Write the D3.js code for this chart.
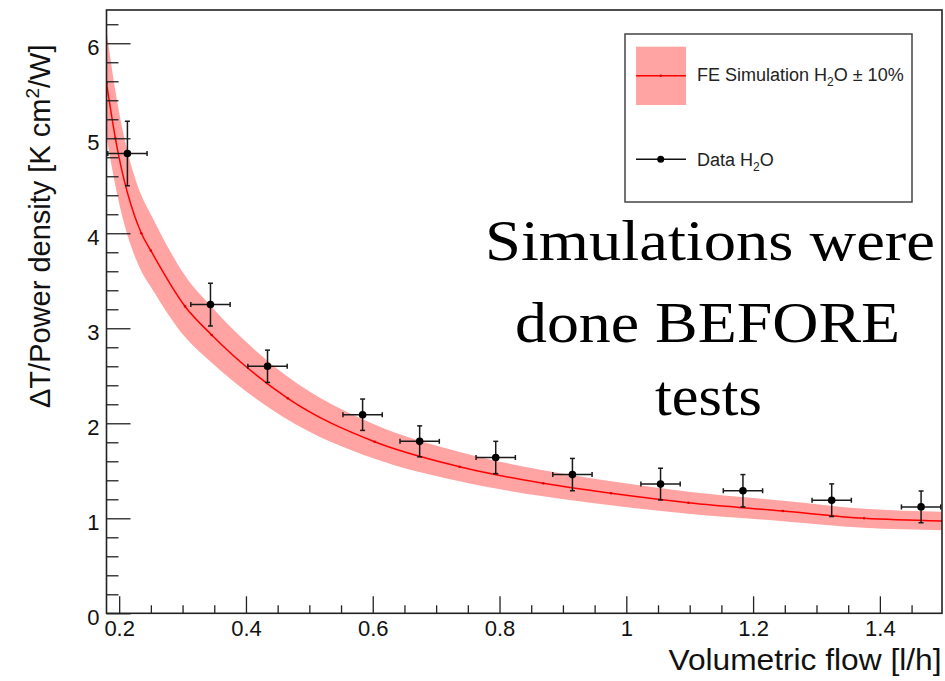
<!DOCTYPE html>
<html>
<head>
<meta charset="utf-8">
<script src="https://cdn.jsdelivr.net/npm/d3@7"></script>
<style>
  html, body { margin: 0; padding: 0; background: #fff; }
  svg { display: block; }
</style>
</head>
<body>
<svg id="chart" width="945" height="681"></svg>
<script>
// ---- Data ----
const dataX    = [0.213, 0.344, 0.434, 0.584, 0.674, 0.794, 0.915, 1.054, 1.184, 1.324, 1.465];
const dataY    = [4.84, 3.25, 2.60, 2.09, 1.81, 1.64, 1.46, 1.36, 1.29, 1.19, 1.12];
const dataXErr = [0.031, 0.031, 0.031, 0.031, 0.031, 0.031, 0.031, 0.031, 0.031, 0.031, 0.031];
const dataYErr = [0.34, 0.225, 0.17, 0.165, 0.163, 0.17, 0.17, 0.167, 0.17, 0.172, 0.167];

const simX = [0.18, 0.194, 0.235, 0.25, 0.304, 0.346, 0.466, 0.603, 0.737, 0.869, 0.976, 1.098, 1.247, 1.375, 1.498];
const simY = [5.58, 5.0, 4.0, 3.817, 3.23, 2.93, 2.263, 1.806, 1.543, 1.368, 1.263, 1.164, 1.077, 1.0, 0.972];
const simBand = 0.10; // ±10%

const xMajorTicks = [0.2, 0.4, 0.6, 0.8, 1.0, 1.2, 1.4];
const xMinorTicks = [0.25, 0.3, 0.35, 0.45, 0.5, 0.55, 0.65, 0.7, 0.75, 0.85, 0.9, 0.95, 1.05, 1.1, 1.15, 1.25, 1.3, 1.35, 1.45];
const yMajorTicks = [0, 1, 2, 3, 4, 5, 6];
const yMinorTicks = [0.2,0.4,0.6,0.8,1.2,1.4,1.6,1.8,2.2,2.4,2.6,2.8,3.2,3.4,3.6,3.8,4.2,4.4,4.6,4.8,5.2,5.4,5.6,5.8,6.2];

const xTitle = "Volumetric flow [l/h]";
const noteLines = ["Simulations were", "done BEFORE", "tests"];

// ---- Layout ----
const SANS = "'Liberation Sans', Arial, Helvetica, sans-serif";
const SERIF = "'Liberation Serif', 'Times New Roman', serif";
const svg = d3.select("#chart");
const L = 106.5, R = 942, T = 10, B = 613.3;
const x = d3.scaleLinear().domain([0.18, 1.498]).range([L, R]);
const y = d3.scaleLinear().domain([0, 6.35]).range([B, T]);

svg.append("rect").attr("width", 945).attr("height", 681).attr("fill", "#fff");

svg.append("defs").append("clipPath").attr("id", "frameClip")
  .append("rect").attr("x", L).attr("y", T).attr("width", R - L).attr("height", B - T);

const plot = svg.append("g").attr("clip-path", "url(#frameClip)");

// Simulation band and curve
const sim = simX.map((v, i) => ({ x: v, y: simY[i] }));
const area = d3.area()
  .x(d => x(d.x))
  .y0(d => y(d.y * (1 - simBand)))
  .y1(d => y(d.y * (1 + simBand)))
  .curve(d3.curveMonotoneX);
plot.append("path").datum(sim).attr("d", area).attr("fill", "#ffa3a3");

const line = d3.line().x(d => x(d.x)).y(d => y(d.y)).curve(d3.curveMonotoneX);
plot.append("path").datum(sim).attr("d", line)
  .attr("fill", "none").attr("stroke", "#ff0000").attr("stroke-width", 1.5);
plot.selectAll("circle.sim").data(sim).enter().append("circle")
  .attr("class", "sim").attr("cx", d => x(d.x)).attr("cy", d => y(d.y))
  .attr("r", 1.3).attr("fill", "#e00000");

// Data points with error bars
const pts = dataX.map((v, i) => ({ x: v, y: dataY[i], ex: dataXErr[i], ey: dataYErr[i] }));
const cap = 2.5;
const eb = plot.append("g").attr("stroke", "#1a1a1a").attr("stroke-width", 1.5);
pts.forEach(p => {
  const cx = x(p.x), cy = y(p.y);
  const x0 = x(p.x - p.ex), x1 = x(p.x + p.ex);
  const y0 = y(p.y - p.ey), y1 = y(p.y + p.ey);
  eb.append("line").attr("x1", x0).attr("x2", x1).attr("y1", cy).attr("y2", cy);
  eb.append("line").attr("x1", cx).attr("x2", cx).attr("y1", y0).attr("y2", y1);
  eb.append("line").attr("x1", x0).attr("x2", x0).attr("y1", cy - cap).attr("y2", cy + cap);
  eb.append("line").attr("x1", x1).attr("x2", x1).attr("y1", cy - cap).attr("y2", cy + cap);
  eb.append("line").attr("x1", cx - cap).attr("x2", cx + cap).attr("y1", y0).attr("y2", y0);
  eb.append("line").attr("x1", cx - cap).attr("x2", cx + cap).attr("y1", y1).attr("y2", y1);
});
plot.selectAll("circle.pt").data(pts).enter().append("circle")
  .attr("class", "pt").attr("cx", d => x(d.x)).attr("cy", d => y(d.y))
  .attr("r", 3.8).attr("fill", "#000");

// Axes
function styleAxis(g) {
  g.select(".domain").remove();
  g.selectAll(".tick line").attr("stroke", "#222").attr("stroke-width", 1.3);
  g.selectAll("text").style("font-size", "22px").style("font-family", SANS).attr("fill", "#111");
}
const gxMinor = svg.append("g").attr("transform", `translate(0,${B})`)
  .call(d3.axisBottom(x).tickValues(xMinorTicks).tickSizeInner(-8).tickSizeOuter(0).tickFormat(""));
styleAxis(gxMinor);
const gx = svg.append("g").attr("transform", `translate(0,${B})`)
  .call(d3.axisBottom(x).tickValues(xMajorTicks).tickSizeInner(-17).tickSizeOuter(0).tickPadding(7)
    .tickFormat(d => String(+d.toFixed(1))));
styleAxis(gx);

const gyMinor = svg.append("g").attr("transform", `translate(${L},0)`)
  .call(d3.axisLeft(y).tickValues(yMinorTicks).tickSizeInner(-12).tickSizeOuter(0).tickFormat(""));
styleAxis(gyMinor);
const gy = svg.append("g").attr("transform", `translate(${L},0)`)
  .call(d3.axisLeft(y).tickValues(yMajorTicks).tickSizeInner(-24).tickSizeOuter(0).tickPadding(7)
    .tickFormat(d3.format("d")));
styleAxis(gy);
gy.selectAll("text").attr("dy", "0.5em");

// Frame
svg.append("rect").attr("x", L).attr("y", T).attr("width", R - L).attr("height", B - T)
  .attr("fill", "none").attr("stroke", "#222").attr("stroke-width", 1.6);

// Axis titles
svg.append("text").attr("x", 668.5).attr("y", 670)
  .style("font-family", SANS).style("font-size", "29px").attr("fill", "#111")
  .attr("textLength", 273).attr("lengthAdjust", "spacingAndGlyphs").text(xTitle);

const yt = svg.append("text").attr("transform", "translate(50,408) rotate(-90)")
  .style("font-family", SANS).style("font-size", "29px").attr("fill", "#111");
yt.append("tspan").text("\u0394T/Power density [K cm");
yt.append("tspan").style("font-size", "19px").attr("dy", -11).text("2");
yt.append("tspan").attr("dy", 11).text("/W]");

// Legend
const lg = svg.append("g");
lg.append("rect").attr("x", 625).attr("y", 34).attr("width", 287).attr("height", 168)
  .attr("fill", "#fff").attr("stroke", "#444").attr("stroke-width", 1.5);
lg.append("rect").attr("x", 636).attr("y", 46.7).attr("width", 50).attr("height", 58.3).attr("fill", "#ffa3a3");
lg.append("line").attr("x1", 636).attr("x2", 686).attr("y1", 75.7).attr("y2", 75.7)
  .attr("stroke", "#ff0000").attr("stroke-width", 1.5);
lg.append("circle").attr("cx", 660.7).attr("cy", 75.7).attr("r", 1.3).attr("fill", "#e00000");
const t1 = lg.append("text").attr("x", 697).attr("y", 81)
  .style("font-family", SANS).style("font-size", "18px").attr("fill", "#222");
t1.append("tspan").text("FE Simulation H");
t1.append("tspan").style("font-size", "12px").attr("dy", 5).text("2");
t1.append("tspan").attr("dy", -5).text("O \u00B1 10%");

lg.append("line").attr("x1", 636).attr("x2", 686).attr("y1", 159.3).attr("y2", 159.3)
  .attr("stroke", "#111").attr("stroke-width", 1.5);
lg.append("circle").attr("cx", 660.7).attr("cy", 159.3).attr("r", 3.5).attr("fill", "#000");
const t2 = lg.append("text").attr("x", 697).attr("y", 165.7)
  .style("font-family", SANS).style("font-size", "18px").attr("fill", "#222");
t2.append("tspan").text("Data H");
t2.append("tspan").style("font-size", "12px").attr("dy", 5).text("2");
t2.append("tspan").attr("dy", -5).text("O");

// Annotation
const noteX = [485, 515, 655], noteY = [260, 342, 415], noteW = [450, 385, 107];
noteLines.forEach((s, i) => {
  svg.append("text").attr("x", noteX[i]).attr("y", noteY[i])
    .style("font-family", SERIF).style("font-size", "58px").attr("fill", "#000")
    .attr("textLength", noteW[i]).attr("lengthAdjust", "spacingAndGlyphs")
    .text(s);
});
</script>
</body>
</html>
